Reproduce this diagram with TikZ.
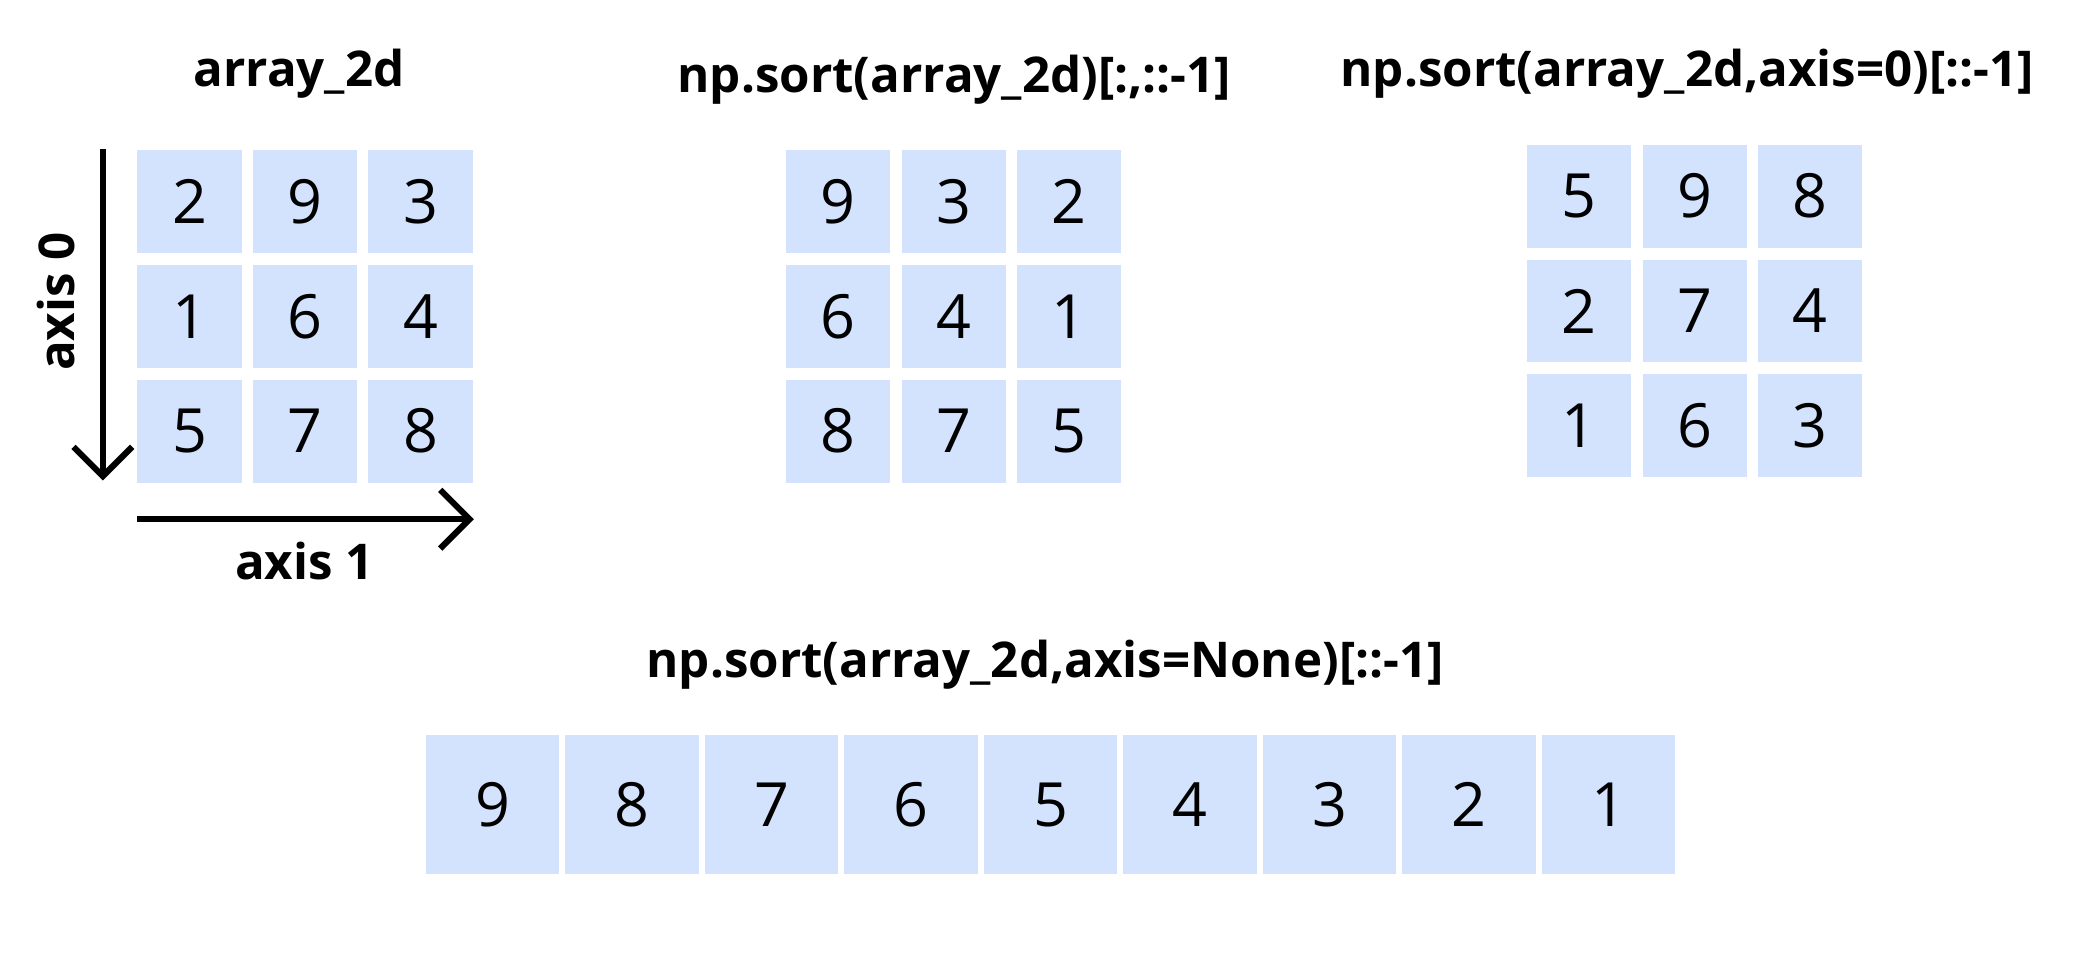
\documentclass[tikz,border=0pt]{standalone}
\usepackage{fontspec}
\setmainfont{Open Sans}
\usetikzlibrary{arrows.meta}
\definecolor{cellc}{HTML}{D3E3FD}
\begin{document}
\begin{tikzpicture}[x=0.1mm,y=-0.1mm,
 cell/.style={fill=cellc,draw=none,minimum width=7.8mm,minimum height=7.7mm,inner sep=0pt,font=\fontsize{13}{15}\selectfont},
 lcell/.style={fill=cellc,draw=none,minimum width=10mm,minimum height=10.4mm,inner sep=0pt,font=\fontsize{13}{15}\selectfont},
 title/.style={font=\bfseries\fontsize{10.5}{12}\selectfont},
 ax/.style={line width=1.3pt,-{Straight Barb[length=2.2mm,width=4.4mm,line width=1.3pt]}}]
\useasboundingbox (0,0) rectangle (1568,725);
% grid macro
\newcommand\mygrid[4]{% prefix, x0, y0, list
 \foreach \v [count=\i from 0] in {#4}{
  \pgfmathtruncatemacro\r{int(\i/3)}
  \pgfmathtruncatemacro\c{mod(\i,3)}
  \node[cell] (#1\r\c) at ({#2+\c*86.5},{#3+\r*86}) {\v};}}
\mygrid{a}{142}{151}{2,9,3,1,6,4,5,7,8}
\mygrid{b}{628}{151}{9,3,2,6,4,1,8,7,5}
\mygrid{c}{1183}{147}{5,9,8,2,7,4,1,6,3}
\node[title] (ta) at (224,55) {array\_2d};
\node[title] (tb) at (715,60) {np.sort(array\_2d)[:,::-1]};
\node[title] (tc) at (1264,55) {np.sort(array\_2d,axis=0)[::-1]};
\node[title] (td) at (783,498) {np.sort(array\_2d,axis=None)[::-1]};
\foreach \v [count=\i from 0] in {9,8,7,6,5,4,3,2,1}
  \node[lcell] (d\i) at ({369+\i*104.5},603) {\v};
\coordinate (a0s) at (77,112); \coordinate (a0e) at (77,360);
\coordinate (a1s) at (103,389); \coordinate (a1e) at (355,389);
\draw[ax] (a0s) -- (a0e);
\draw[ax] (a1s) -- (a1e);
\node[title,rotate=90] (l0) at (42,226) {axis 0};
\node[title] (l1) at (228,420) {axis 1};
\end{tikzpicture}
\end{document}
